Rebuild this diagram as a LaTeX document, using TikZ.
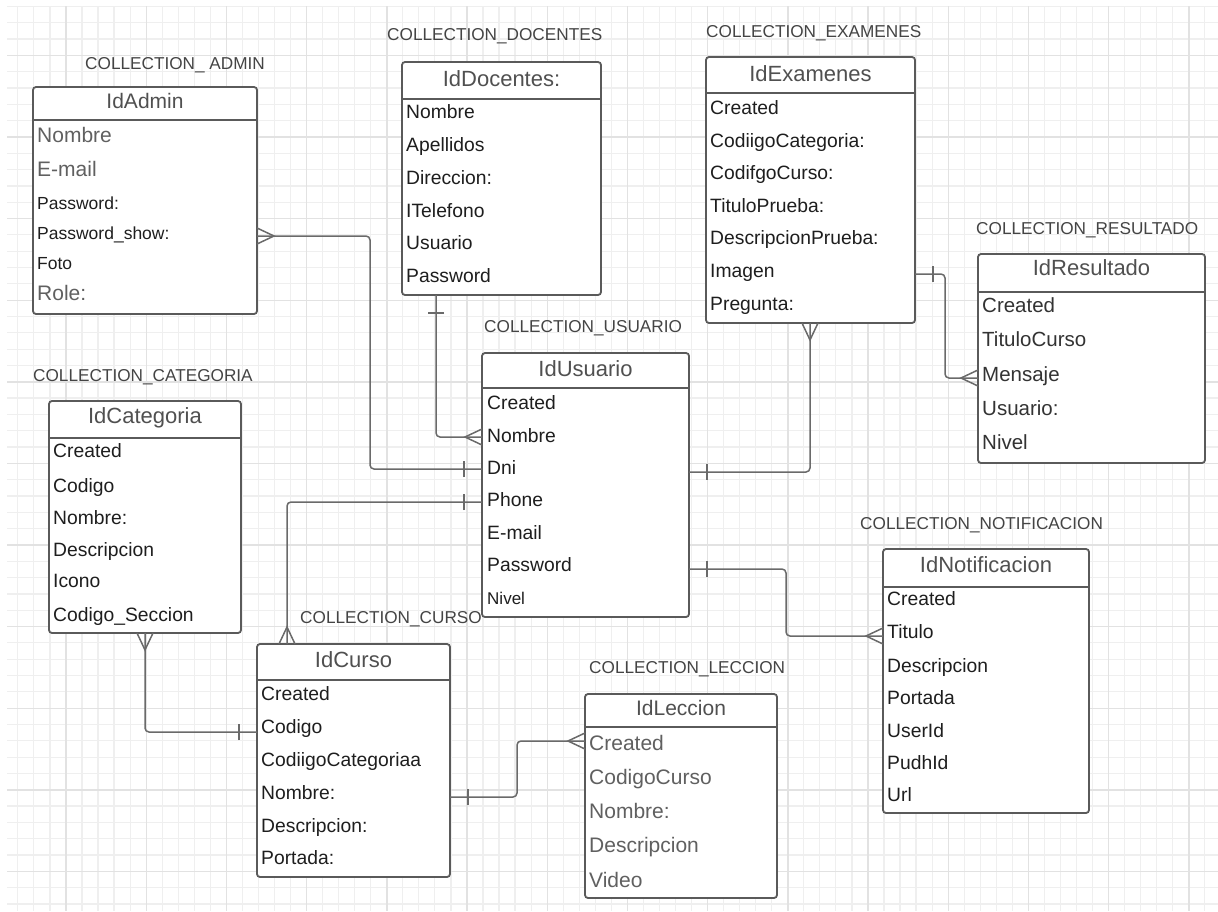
\documentclass[tikz,border=0pt]{standalone}
\usepackage{fontspec}
\setmainfont{Liberation Sans}
\usetikzlibrary{calc}
\definecolor{boxc}{HTML}{5A5A5A}
\definecolor{ttlc}{HTML}{505050}
\definecolor{rowc}{HTML}{1E1E1E}
\definecolor{grayc}{HTML}{606060}
\definecolor{darkc}{HTML}{333333}
\definecolor{lblc}{HTML}{444444}
\definecolor{linec}{HTML}{6A6A6A}
\definecolor{gminor}{HTML}{EFEFEF}
\definecolor{gmajor}{HTML}{E2E2E2}
\newcommand{\ent}[6]{%
  \node[ent, minimum width=#4pt, minimum height=#5pt] (#1) at (#2,#3) {};
  \draw[sep] ([yshift=-#6pt]#1.north west) -- ([yshift=-#6pt]#1.north east);}
\newcommand{\crowft}[2]{\draw[mark line, shift={(#1)}, rotate=#2] (0,8) -- (17,0) -- (0,-8);}
\newcommand{\onebr}[2]{\draw[mark line, shift={(#1)}, rotate=#2] (18,-8) -- (18,8);}
\begin{document}
\begin{tikzpicture}[x=1pt,y=-1pt,
  ent/.style={draw=boxc, line width=1.8pt, rounded corners=3pt, fill=white, inner sep=0pt, outer sep=0pt, anchor=north west},
  sep/.style={draw=boxc, line width=1.8pt},
  ttl/.style={font=\fontsize{22}{26}\selectfont, text=ttlc, inner sep=0pt, anchor=base, yshift=-7.9pt},
  ttls/.style={font=\fontsize{21}{24}\selectfont, text=ttlc, inner sep=0pt, anchor=base, yshift=-7.5pt},
  row/.style={font=\fontsize{19.3}{22}\selectfont, text=rowc, inner sep=0pt, anchor=base west, yshift=-6.9pt},
  rowg/.style={font=\fontsize{21}{24}\selectfont, text=grayc, inner sep=0pt, anchor=base west, yshift=-7.5pt},
  rows/.style={font=\fontsize{17.5}{20}\selectfont, text=rowc, inner sep=0pt, anchor=base west, yshift=-6.3pt},
  rowr/.style={font=\fontsize{20.5}{24}\selectfont, text=darkc, inner sep=0pt, anchor=base west, yshift=-7.3pt},
  rown/.style={font=\fontsize{17}{20}\selectfont, text=rowc, inner sep=0pt, anchor=base west, yshift=-6.1pt},
  lbl/.style={font=\fontsize{17.2}{19}\selectfont, text=lblc, inner sep=0pt, anchor=base west, yshift=-6.1pt},
  conn/.style={draw=linec, line width=1.5pt, rounded corners=4pt},
  mark line/.style={draw=linec, line width=1.5pt},
  minor/.style={draw=gminor, line width=1.2pt},
  major/.style={draw=gmajor, line width=1.4pt}
]
\useasboundingbox (0,0) rectangle (1218,911);
\fill[white] (0,0) rectangle (1218,911);
% grid
\begin{scope}
\clip (7,6) rectangle (1218,911);
\foreach \k in {1,...,76} \draw[minor] ({1.8+16.04*\k},6) -- ({1.8+16.04*\k},911);
\foreach \k in {0,...,55} \draw[minor] (7,{6.4+16.32*\k}) -- (1218,{6.4+16.32*\k});
\foreach \k in {0,...,14} \draw[major] ({66+80.2*\k},6) -- ({66+80.2*\k},911);
\foreach \k in {0,...,10} \draw[major] (7,{55.4+81.6*\k}) -- (1218,{55.4+81.6*\k});
\end{scope}

% ---------- entities ----------
\ent{admin}{33}{87}{224}{227}{33}
\node[ttls] (admin-t) at (145,101) {IdAdmin};
\node[rowg] (admin-1) at (37,135) {Nombre};
\node[rowg] (admin-2) at (37,169) {E-mail};
\node[rows] (admin-3) at (37,203) {Password:};
\node[rows] (admin-4) at (37,233) {Password\_show:};
\node[rows] (admin-5) at (37,263) {Foto};
\node[rowg] (admin-6) at (37,293) {Role:};
\node[lbl] (lbl-admin) at (85,63) {COLLECTION\_ ADMIN};

\ent{docentes}{402}{62}{199}{233}{37}
\node[ttl] (doc-t) at (501.5,79) {IdDocentes:};
\foreach \y/\t [count=\i] in {112/Nombre,145/Apellidos,178/Direccion:,211/ITelefono,243/Usuario,276/Password}
  \node[row] (doc-\i) at (406,\y) {\t};
\node[lbl] (lbl-doc) at (387,34) {COLLECTION\_DOCENTES};

\ent{examenes}{706}{57}{209}{266}{36}
\node[ttl] (exa-t) at (810.5,74) {IdExamenes};
\foreach \y/\t [count=\i] in {108/Created,141/CodiigoCategoria:,173/CodifgoCurso:,206/TituloPrueba:,238/DescripcionPrueba:,271/Imagen,304/Pregunta:}
  \node[row] (exa-\i) at (710,\y) {\t};
\node[lbl] (lbl-exa) at (706,31) {COLLECTION\_EXAMENES};

\ent{resultado}{978}{254}{227}{209}{38}
\node[ttl] (res-t) at (1091.5,268) {IdResultado};
\foreach \y/\t [count=\i] in {305/Created,339/TituloCurso,374/Mensaje,408/Usuario:,442/Nivel}
  \node[rowr] (res-\i) at (982,\y) {\t};
\node[lbl] (lbl-res) at (976,228) {COLLECTION\_RESULTADO};

\ent{usuario}{482}{353}{207}{264}{35}
\node[ttl] (usu-t) at (585.5,369) {IdUsuario};
\foreach \y/\t [count=\i] in {403/Created,436/Nombre,468/Dni,500/Phone,533/E-mail,565/Password}
  \node[row] (usu-\i) at (487,\y) {\t};
\node[rown] (usu-7) at (487,598) {Nivel};
\node[lbl] (lbl-usu) at (484,326) {COLLECTION\_USUARIO};

\ent{categoria}{49}{401}{192}{232}{37}
\node[ttl] (cat-t) at (145,416) {IdCategoria};
\foreach \y/\t [count=\i] in {451/Created,486/Codigo,518/Nombre:,550/Descripcion,581/Icono,615/Codigo\_Seccion}
  \node[row] (cat-\i) at (53,\y) {\t};
\node[lbl] (lbl-cat) at (33,375) {COLLECTION\_CATEGORIA};

\ent{curso}{257}{644}{193}{233}{36}
\node[ttl] (cur-t) at (353.5,660) {IdCurso};
\foreach \y/\t [count=\i] in {694/Created,727/Codigo,760/CodiigoCategoriaa,793/Nombre:,826/Descripcion:,858/Portada:}
  \node[row] (cur-\i) at (261,\y) {\t};
\node[lbl] (lbl-cur) at (300,617) {COLLECTION\_CURSO};

\ent{leccion}{585}{694}{192}{204}{33}
\node[ttls] (lec-t) at (681,708) {IdLeccion};
\foreach \y/\t [count=\i] in {743/Created,777/CodigoCurso,811/Nombre:,845/Descripcion,880/Video}
  \node[rowg] (lec-\i) at (589,\y) {\t};
\node[lbl] (lbl-lec) at (589,667) {COLLECTION\_LECCION};

\ent{notif}{883}{549}{206}{264}{38}
\node[ttl] (not-t) at (986,565) {IdNotificacion};
\foreach \y/\t [count=\i] in {599/Created,632/Titulo,666/Descripcion,698/Portada,731/UserId,763/PudhId,795/Url}
  \node[row] (not-\i) at (887,\y) {\t};
\node[lbl] (lbl-not) at (860,523) {COLLECTION\_NOTIFICACION};

% ---------- connectors ----------
\draw[conn] (admin.east |- 0,236) -| (370,469) -- (usuario.west |- 0,469);
\draw[conn] (docentes.south -| 436,0) |- (usuario.west |- 0,437);
\draw[conn] (curso.north -| 287,0) |- (usuario.west |- 0,502);
\draw[conn] (usuario.east |- 0,472) -| (examenes.south -| 810,0);
\draw[conn] (examenes.east |- 0,274) -| (945,378) -- (resultado.west |- 0,378);
\draw[conn] (usuario.east |- 0,569) -| (786,636) -- (notif.west |- 0,636);
\draw[conn] (categoria.south -| 145,0) |- (curso.west |- 0,732);
\draw[conn] (curso.east |- 0,797) -| (517,741) -- (leccion.west |- 0,741);

% ---------- end marks ----------
\coordinate (m1a) at (admin.east |- 0,236);   \crowft{m1a}{0}
\coordinate (m1b) at (usuario.west |- 0,469); \onebr{m1b}{180}
\coordinate (m2a) at (docentes.south -| 436,0); \onebr{m2a}{-90}
\coordinate (m2b) at (usuario.west |- 0,437); \crowft{m2b}{180}
\coordinate (m3a) at (curso.north -| 287,0);  \crowft{m3a}{90}
\coordinate (m3b) at (usuario.west |- 0,502); \onebr{m3b}{180}
\coordinate (m4a) at (usuario.east |- 0,472); \onebr{m4a}{0}
\coordinate (m4b) at (examenes.south -| 810,0); \crowft{m4b}{-90}
\coordinate (m5a) at (examenes.east |- 0,274); \onebr{m5a}{0}
\coordinate (m5b) at (resultado.west |- 0,378); \crowft{m5b}{180}
\coordinate (m6a) at (usuario.east |- 0,569); \onebr{m6a}{0}
\coordinate (m6b) at (notif.west |- 0,636);   \crowft{m6b}{180}
\coordinate (m7a) at (categoria.south -| 145,0); \crowft{m7a}{-90}
\coordinate (m7b) at (curso.west |- 0,732);   \onebr{m7b}{180}
\coordinate (m8a) at (curso.east |- 0,797);   \onebr{m8a}{0}
\coordinate (m8b) at (leccion.west |- 0,741); \crowft{m8b}{180}
\end{tikzpicture}
\end{document}
